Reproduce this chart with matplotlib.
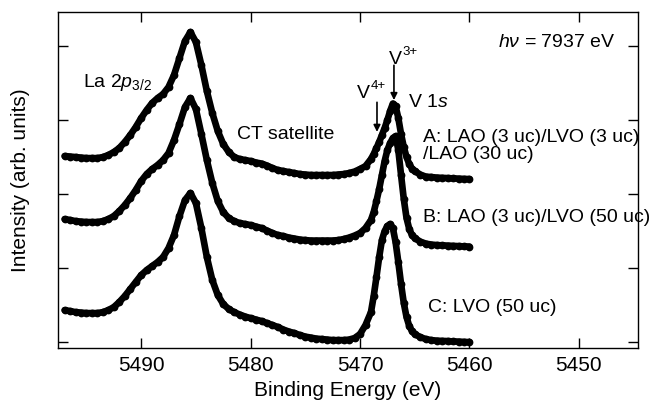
"""V 1s and La 2p3/2 HAXPES spectra of LAO/LVO heterostructures."""
import matplotlib

matplotlib.use("Agg")
from matplotlib import pyplot as plt
from matplotlib import rcParams

rcParams["font.family"] = ["Liberation Sans", "DejaVu Sans"]
rcParams["mathtext.fontset"] = "custom"
rcParams["mathtext.rm"] = "Liberation Sans"
rcParams["mathtext.it"] = "Liberation Sans:italic"
rcParams["font.size"] = 15

# binding energy grid (eV)
energy = [
    5497.0, 5496.5, 5496.0, 5495.5, 5495.0, 5494.5, 5494.0, 5493.5, 5493.0, 5492.5,
    5492.0, 5491.5, 5491.0, 5490.5, 5490.0, 5489.5, 5489.0, 5488.5, 5488.0, 5487.5,
    5487.0, 5486.5, 5486.0, 5485.5, 5485.0, 5484.5, 5484.0, 5483.5, 5483.0, 5482.5,
    5482.0, 5481.5, 5481.0, 5480.5, 5480.0, 5479.5, 5479.0, 5478.5, 5478.0, 5477.5,
    5477.0, 5476.5, 5476.0, 5475.5, 5475.0, 5474.5, 5474.0, 5473.5, 5473.0, 5472.5,
    5472.0, 5471.5, 5471.0, 5470.5, 5470.0, 5469.5, 5469.0, 5468.75, 5468.5, 5468.25,
    5468.0, 5467.75, 5467.5, 5467.25, 5467.0, 5466.75, 5466.5, 5466.25, 5466.0, 5465.75,
    5465.5, 5465.25, 5465.0, 5464.5, 5464.0, 5463.5, 5463.0, 5462.5, 5462.0, 5461.5,
    5461.0, 5460.5, 5460.0,
]

# A: LAO (3 uc)/LVO (3 uc)/LAO (30 uc), offset intensity
int_a = [
    2.514, 2.507, 2.500, 2.493, 2.486, 2.486, 2.486, 2.500, 2.527, 2.568,
    2.622, 2.703, 2.797, 2.905, 3.027, 3.135, 3.230, 3.297, 3.351, 3.446,
    3.608, 3.838, 4.068, 4.189, 4.054, 3.743, 3.392, 3.095, 2.851, 2.676,
    2.568, 2.500, 2.473, 2.459, 2.446, 2.426, 2.412, 2.385, 2.351, 2.324,
    2.311, 2.297, 2.284, 2.270, 2.264, 2.257, 2.257, 2.257, 2.257, 2.257,
    2.264, 2.270, 2.284, 2.304, 2.338, 2.378, 2.473, 2.541, 2.622, 2.703,
    2.797, 2.892, 3.000, 3.122, 3.223, 3.189, 3.027, 2.811, 2.635, 2.500,
    2.405, 2.345, 2.311, 2.264, 2.236, 2.230, 2.223, 2.219, 2.216, 2.212,
    2.209, 2.205, 2.203,
]

# B: LAO (3 uc)/LVO (50 uc)
int_b = [
    1.662, 1.649, 1.635, 1.628, 1.622, 1.622, 1.622, 1.635, 1.662, 1.703,
    1.770, 1.851, 1.946, 2.054, 2.176, 2.270, 2.338, 2.392, 2.459, 2.554,
    2.730, 2.946, 3.176, 3.297, 3.149, 2.811, 2.459, 2.149, 1.905, 1.757,
    1.676, 1.635, 1.608, 1.595, 1.581, 1.561, 1.541, 1.507, 1.473, 1.446,
    1.432, 1.412, 1.399, 1.385, 1.378, 1.372, 1.372, 1.372, 1.372, 1.372,
    1.378, 1.392, 1.412, 1.439, 1.473, 1.541, 1.649, 1.757, 1.905, 2.068,
    2.257, 2.446, 2.595, 2.689, 2.757, 2.784, 2.595, 2.257, 1.932, 1.676,
    1.527, 1.446, 1.405, 1.358, 1.331, 1.318, 1.311, 1.307, 1.304, 1.300,
    1.297, 1.293, 1.291,
]

# C: LVO (50 uc)
int_c = [
    0.432, 0.419, 0.405, 0.399, 0.392, 0.392, 0.392, 0.405, 0.432, 0.473,
    0.541, 0.622, 0.716, 0.811, 0.905, 0.973, 1.027, 1.081, 1.149, 1.270,
    1.446, 1.703, 1.919, 2.014, 1.878, 1.541, 1.149, 0.838, 0.635, 0.514,
    0.446, 0.405, 0.372, 0.345, 0.324, 0.304, 0.284, 0.257, 0.230, 0.203,
    0.169, 0.142, 0.122, 0.095, 0.074, 0.061, 0.047, 0.041, 0.034, 0.027,
    0.027, 0.027, 0.034, 0.054, 0.108, 0.230, 0.405, 0.622, 0.878, 1.149,
    1.378, 1.500, 1.568, 1.595, 1.541, 1.351, 1.081, 0.784, 0.527, 0.338,
    0.216, 0.149, 0.108, 0.068, 0.041, 0.027, 0.020, 0.016, 0.014, 0.009,
    0.007, 0.003, 0.000,
]

fig = plt.figure(figsize=(6.49, 4.08), dpi=100)
ax = fig.add_axes([0.0894, 0.147, 0.8936, 0.8236])

for inten in (int_a, int_b, int_c):
    ax.plot(energy, inten, "-", color="k", lw=4.8, solid_capstyle="round")
    ax.plot(energy, inten, "o", color="k", ms=5.6, mew=0)

ax.set_xlim(5497.6, 5444.6)
ax.set_ylim(-0.08, 4.46)
ax.set_xticks([5490, 5480, 5470, 5460, 5450])
ax.set_yticks([0, 1, 2, 3, 4])
ax.set_yticklabels([])
ax.tick_params(direction="in", top=True, right=True, length=7, width=1, pad=6)
for s in ax.spines.values():
    s.set_linewidth(1.0)

ax.set_xlabel("Binding Energy (eV)", labelpad=4)
ax.set_ylabel("Intensity (arb. units)", labelpad=14)

fs = 14
ax.text(5495.3, 3.51, r"La 2$p_{3/2}$", fontsize=fs, va="center", ha="left")
ax.text(5481.2, 2.80, "CT satellite", fontsize=fs, va="center", ha="left")
ax.text(5457.4, 4.05, r"$h\nu$ = 7937 eV", fontsize=fs, va="center", ha="left")
ax.text(5465.6, 3.24, r"V 1$s$", fontsize=fs, va="center", ha="left")
ax.text(5464.25, 2.77, "A: LAO (3 uc)/LVO (3 uc)", fontsize=fs, va="center", ha="left")
ax.text(5464.25, 2.53, "/LAO (30 uc)", fontsize=fs, va="center", ha="left")
ax.text(5464.25, 1.69, "B: LAO (3 uc)/LVO (50 uc)", fontsize=fs, va="center", ha="left")
ax.text(5463.8, 0.47, "C: LVO (50 uc)", fontsize=fs, va="center", ha="left")

# valence markers: V with a small raised charge label
arrow = dict(arrowstyle="-|>", color="k", lw=1.2, mutation_scale=10, shrinkA=0, shrinkB=0)
ax.annotate("", xy=(5466.9, 3.27), xytext=(5466.9, 3.74), arrowprops=arrow)
ax.annotate("", xy=(5468.45, 2.84), xytext=(5468.45, 3.24), arrowprops=arrow)
for x, y, charge in [(5467.4, 3.82, "3+"), (5470.3, 3.36, "4+")]:
    ax.text(x, y, "V", fontsize=fs, va="center", ha="left")
    ax.annotate(charge, xy=(x, y), xytext=(10, 5), textcoords="offset points",
                fontsize=9.5, va="center", ha="left")

fig.savefig("out.png", dpi=100)
